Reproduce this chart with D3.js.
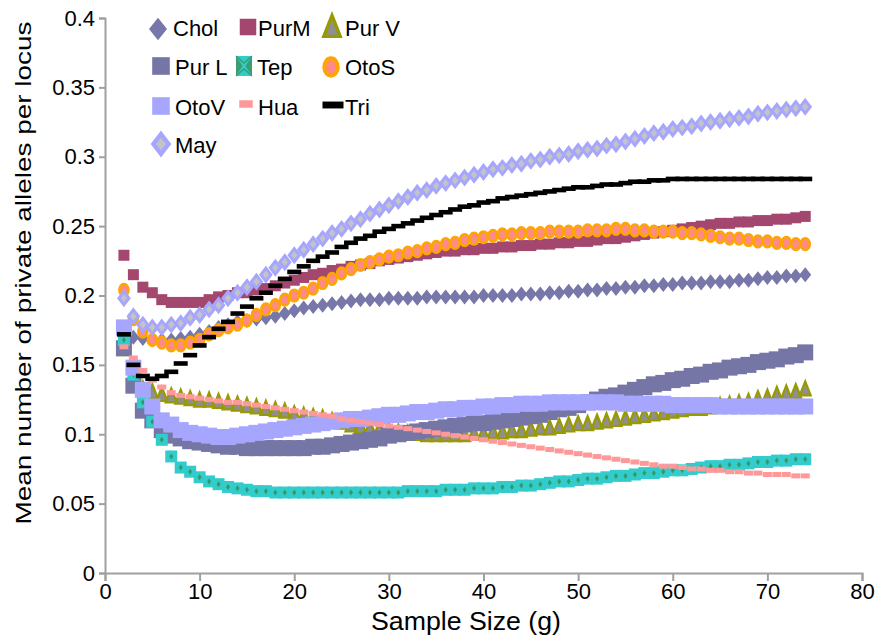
<!DOCTYPE html>
<html>
<head>
<meta charset="utf-8">
<script src="https://cdn.jsdelivr.net/npm/d3@7"></script>
<style>
  body { margin: 0; background: #fff; }
  text { font-family: "Liberation Sans", Arial, sans-serif; fill: #000; }
</style>
</head>
<body>
<div id="chart"></div>
<script>
// sample sizes (g)
const sampleSize = [2,3,4,5,6,7,8,9,10,11,12,13,14,15,16,17,18,19,20,21,22,23,24,25,26,27,28,29,30,31,32,33,34,35,36,37,38,39,40,41,42,43,44,45,46,47,48,49,50,51,52,53,54,55,56,57,58,59,60,61,62,63,64,65,66,67,68,69,70,71,72,73,74];

// mean private alleles per locus, one array per population
const chol = [.172,.170,.169,.168,.168,.168,.169,.170,.172,.174,
  .177,.179,.181,.182,.183,.184,.185,.187,.189,.191,
  .192,.193,.194,.195,.196,.197,.197,.197,.198,.198,
  .198,.198,.199,.199,.199,.199,.199,.199,.200,.200,
  .200,.200,.201,.201,.201,.202,.202,.203,.203,.204,
  .204,.205,.205,.206,.206,.207,.207,.208,.208,.209,
  .209,.209,.210,.210,.210,.211,.211,.212,.213,.213,
  .214,.214,.215];
const purM = [.229,.215,.206,.202,.197,.195,.195,.195,.195,.197,
  .199,.200,.202,.202,.204,.205,.207,.209,.211,.213,
  .215,.216,.218,.219,.221,.222,.223,.225,.226,.227,
  .228,.229,.230,.231,.232,.232,.233,.233,.234,.234,
  .235,.235,.236,.236,.237,.237,.238,.238,.239,.239,
  .240,.241,.241,.242,.243,.244,.245,.246,.247,.248,
  .249,.250,.251,.252,.252,.253,.253,.254,.254,.255,
  .255,.256,.257];
const purV = [.161,.137,.132,.130,.128,.127,.126,.125,.124,.124,
  .123,.122,.121,.120,.119,.118,.117,.116,.114,.113,
  .112,.111,.109,.108,.106,.105,.104,.103,.102,.101,
  .100,.100,.099,.099,.099,.099,.099,.100,.100,.101,
  .101,.102,.102,.103,.104,.104,.105,.106,.107,.107,
  .108,.109,.110,.111,.112,.113,.114,.115,.116,.117,
  .118,.118,.119,.120,.121,.122,.123,.125,.126,.128,
  .129,.130,.132];
const purL = [.162,.135,.117,.110,.103,.099,.097,.095,.094,.093,
  .092,.091,.091,.090,.090,.090,.090,.090,.090,.090,
  .091,.091,.092,.093,.094,.095,.096,.097,.099,.100,
  .101,.102,.103,.104,.105,.106,.107,.108,.108,.109,
  .110,.111,.112,.113,.114,.116,.118,.119,.121,.123,
  .125,.127,.128,.130,.132,.134,.136,.137,.139,.140,
  .142,.143,.145,.146,.148,.149,.150,.152,.153,.154,
  .156,.157,.159];
const tep = [.168,.143,.123,.109,.096,.084,.076,.073,.069,.066,
  .064,.062,.061,.060,.059,.059,.058,.058,.058,.058,
  .058,.058,.058,.058,.058,.058,.058,.058,.058,.058,
  .059,.059,.059,.059,.060,.060,.060,.061,.061,.061,
  .062,.062,.063,.063,.064,.065,.066,.066,.067,.068,
  .068,.069,.070,.070,.071,.072,.072,.073,.074,.074,
  .075,.076,.077,.077,.078,.078,.079,.080,.080,.081,
  .081,.082,.082];
const otoS = [.204,.183,.174,.168,.166,.164,.164,.166,.168,.172,
  .175,.177,.179,.182,.186,.190,.193,.197,.200,.202,
  .205,.209,.212,.216,.219,.222,.224,.226,.228,.229,
  .231,.232,.234,.235,.237,.238,.240,.241,.242,.243,
  .244,.244,.245,.245,.245,.246,.246,.246,.246,.247,
  .247,.247,.248,.248,.247,.247,.246,.246,.246,.245,
  .245,.244,.243,.242,.241,.241,.240,.239,.239,.238,
  .238,.237,.237];
const otoV = [.177,.148,.132,.120,.110,.107,.103,.101,.100,.099,
  .098,.098,.099,.100,.101,.102,.103,.104,.105,.106,
  .107,.108,.109,.110,.111,.111,.112,.113,.114,.114,
  .115,.116,.116,.117,.118,.118,.119,.119,.120,.120,
  .121,.121,.122,.122,.122,.123,.123,.123,.123,.123,
  .123,.123,.123,.122,.122,.122,.122,.122,.121,.121,
  .121,.121,.121,.120,.120,.120,.120,.120,.120,.120,
  .120,.120,.120];
const hua = [.163,.155,.146,.139,.134,.130,.128,.127,.126,.125,
  .124,.123,.123,.122,.121,.120,.119,.118,.117,.116,
  .115,.114,.113,.111,.110,.109,.108,.107,.106,.105,
  .104,.103,.102,.101,.100,.099,.098,.097,.096,.095,
  .094,.093,.092,.091,.090,.089,.088,.087,.086,.085,
  .084,.083,.082,.081,.080,.079,.078,.077,.077,.076,
  .075,.075,.074,.074,.073,.073,.072,.072,.071,.071,
  .071,.070,.070];
const tri = [.172,.150,.142,.140,.142,.145,.151,.157,.164,.170,
  .176,.181,.187,.192,.198,.202,.207,.212,.217,.221,
  .225,.228,.231,.235,.238,.241,.243,.246,.248,.250,
  .252,.254,.256,.258,.260,.262,.264,.265,.267,.268,
  .270,.271,.272,.273,.274,.275,.276,.277,.278,.278,
  .279,.280,.280,.281,.282,.282,.283,.283,.284,.284,
  .284,.284,.284,.284,.284,.284,.284,.284,.284,.284,
  .284,.284,.284];
const may = [.198,.185,.179,.177,.177,.179,.180,.184,.186,.190,
  .193,.198,.202,.206,.210,.215,.220,.224,.229,.233,
  .237,.241,.245,.248,.252,.255,.259,.262,.265,.268,
  .271,.274,.276,.279,.281,.283,.285,.287,.289,.291,
  .292,.294,.295,.297,.298,.300,.301,.302,.304,.305,
  .306,.308,.309,.311,.313,.315,.317,.318,.320,.321,
  .322,.324,.325,.326,.327,.328,.329,.331,.332,.333,
  .334,.335,.336];

const xTicks = [0, 10, 20, 30, 40, 50, 60, 70, 80];
const yTicks = [0, 0.05, 0.1, 0.15, 0.2, 0.25, 0.3, 0.35, 0.4];
const yTickLabels = ["0", "0.05", "0.1", "0.15", "0.2", "0.25", "0.3", "0.35", "0.4"];

const W = 875, H = 644;
const svg = d3.select("#chart").append("svg")
  .attr("width", W).attr("height", H);

const x = d3.scaleLinear().domain([0, 80]).range([105, 862]);
const y = d3.scaleLinear().domain([0, 0.4]).range([573, 18]);

// marker shapes
function diamond(w, h) { return `M0,${-h/2}L${w/2},0L0,${h/2}L${-w/2},0Z`; }
function triangle(w, h) { return `M0,${-h*0.6}L${w/2},${h*0.4}L${-w/2},${h*0.4}Z`; }

function drawMarker(g, type, s, legend) {
  // s = scale factor (legend markers are bigger)
  if (type === "Chol") {
    g.append("path").attr("d", diamond(12*s, 15*s)).attr("fill", "#7777a9");
  } else if (type === "PurM") {
    g.append("rect").attr("x", -5.5*s).attr("y", -5.5*s).attr("width", 11*s).attr("height", 11*s)
      .attr("fill", "#a4476f");
  } else if (type === "Pur V") {
    g.append("path").attr("d", triangle(11*s, 14*s)).attr("fill", "#8f8f8f")
      .attr("stroke", "#999900").attr("stroke-width", 2.2*s).attr("stroke-linejoin", "miter");
  } else if (type === "Pur L") {
    g.append("rect").attr("x", -8*s).attr("y", -8*s).attr("width", 16*s).attr("height", 16*s)
      .attr("fill", "#7676a6");
  } else if (type === "Tep") {
    if (legend) {
      g.append("rect").attr("x", -8).attr("y", -10).attr("width", 16).attr("height", 20)
        .attr("fill", "#3a9e72");
      g.append("path").attr("d", "M-8,-10L8,-10L1.5,0L8,10L-8,10L-1.5,0Z").attr("fill", "#33cccc");
      g.append("path").attr("d", "M-8,-10L0,-3L8,-10M-8,10L0,3L8,10")
        .attr("fill", "none").attr("stroke", "#3a9e72").attr("stroke-width", 1.5);
    } else {
      g.append("rect").attr("x", -6*s).attr("y", -6*s).attr("width", 12*s).attr("height", 12*s)
        .attr("fill", "#33cccc");
      g.append("path").attr("d", diamond(4*s, 6*s)).attr("fill", "#339966");
    }
  } else if (type === "OtoS") {
    g.append("ellipse").attr("rx", 4.5*s).attr("ry", 5.8*s).attr("fill", "#ff8a8a")
      .attr("stroke", "#ffa500").attr("stroke-width", 2.6*s);
  } else if (type === "OtoV") {
    g.append("rect").attr("x", -8*s).attr("y", -8*s).attr("width", 16*s).attr("height", 16*s)
      .attr("fill", "#a6a6ff");
  } else if (type === "Hua") {
    g.append("rect").attr("x", -4.5*s).attr("y", -2.5*s).attr("width", 9*s).attr("height", 5*s)
      .attr("fill", "#ff9999");
  } else if (type === "Tri") {
    g.append("rect").attr("x", -7*s).attr("y", -2.3*s).attr("width", 14*s).attr("height", 4.6*s)
      .attr("fill", "#000");
  } else if (type === "May") {
    g.append("path").attr("d", diamond(10*s, 13*s)).attr("fill", "#c4c4c4")
      .attr("stroke", "#a6a6ff").attr("stroke-width", 3*s);
  }
}

const series = [
  { name: "Chol", values: chol },
  { name: "PurM", values: purM },
  { name: "Pur V", values: purV },
  { name: "Pur L", values: purL },
  { name: "Tep", values: tep },
  { name: "OtoS", values: otoS },
  { name: "OtoV", values: otoV },
  { name: "Hua", values: hua },
  { name: "Tri", values: tri },
  { name: "May", values: may }
];

// axes
const xAxis = svg.append("g")
  .attr("transform", "translate(0," + y(0) + ")")
  .call(d3.axisBottom(x).tickValues(xTicks).tickFormat(d3.format("d")).tickSizeOuter(0).tickSize(8).tickPadding(2));
xAxis.selectAll("text").attr("font-size", 22);

const yAxis = svg.append("g")
  .attr("transform", "translate(" + x(0) + ",0)")
  .call(d3.axisLeft(y).tickValues(yTicks).tickFormat((d, i) => yTickLabels[i]).tickSizeOuter(0).tickSize(6).tickPadding(4));
yAxis.selectAll("text").attr("font-size", 22);

svg.selectAll(".domain, .tick line").attr("stroke", "#a0a0a0").attr("stroke-width", 2);

// series, drawn in legend order so later ones sit on top
series.forEach(s => {
  const grp = svg.append("g").attr("class", "series");
  s.values.forEach((v, i) => {
    const m = grp.append("g").attr("transform", `translate(${x(sampleSize[i])},${y(v)})`);
    drawMarker(m, s.name, 1, false);
  });
});

// legend
const legendPos = [
  { name: "Chol", mx: 158, my: 29, tx: 173, ty: 36 },
  { name: "PurM", mx: 248, my: 27, tx: 258, ty: 36 },
  { name: "Pur V", mx: 332, my: 28, tx: 345, ty: 36 },
  { name: "Pur L", mx: 161, my: 66, tx: 175, ty: 75 },
  { name: "Tep", mx: 244, my: 66, tx: 257, ty: 75 },
  { name: "OtoS", mx: 331, my: 67, tx: 345, ty: 75 },
  { name: "OtoV", mx: 161, my: 106, tx: 175, ty: 115 },
  { name: "Hua", mx: 246, my: 104, tx: 258, ty: 115 },
  { name: "Tri", mx: 333, my: 105, tx: 345, ty: 115 },
  { name: "May", mx: 161, my: 144, tx: 175, ty: 153 }
];
legendPos.forEach(l => {
  const m = svg.append("g").attr("transform", `translate(${l.mx},${l.my})`);
  drawMarker(m, l.name, l.name === "Pur L" || l.name === "OtoV" ? 1.1 : 1.5, true);
  svg.append("text").attr("x", l.tx).attr("y", l.ty).attr("font-size", 22).text(l.name);
});

// axis titles
svg.append("text")
  .attr("x", 466).attr("y", 630).attr("text-anchor", "middle")
  .attr("font-size", 25)
  .attr("textLength", 190).attr("lengthAdjust", "spacingAndGlyphs")
  .text("Sample Size (g)");

svg.append("text")
  .attr("transform", "translate(31,273) rotate(-90)")
  .attr("text-anchor", "middle").attr("font-size", 22)
  .attr("textLength", 503).attr("lengthAdjust", "spacingAndGlyphs")
  .text("Mean number of private alleles per locus");
</script>
</body>
</html>
